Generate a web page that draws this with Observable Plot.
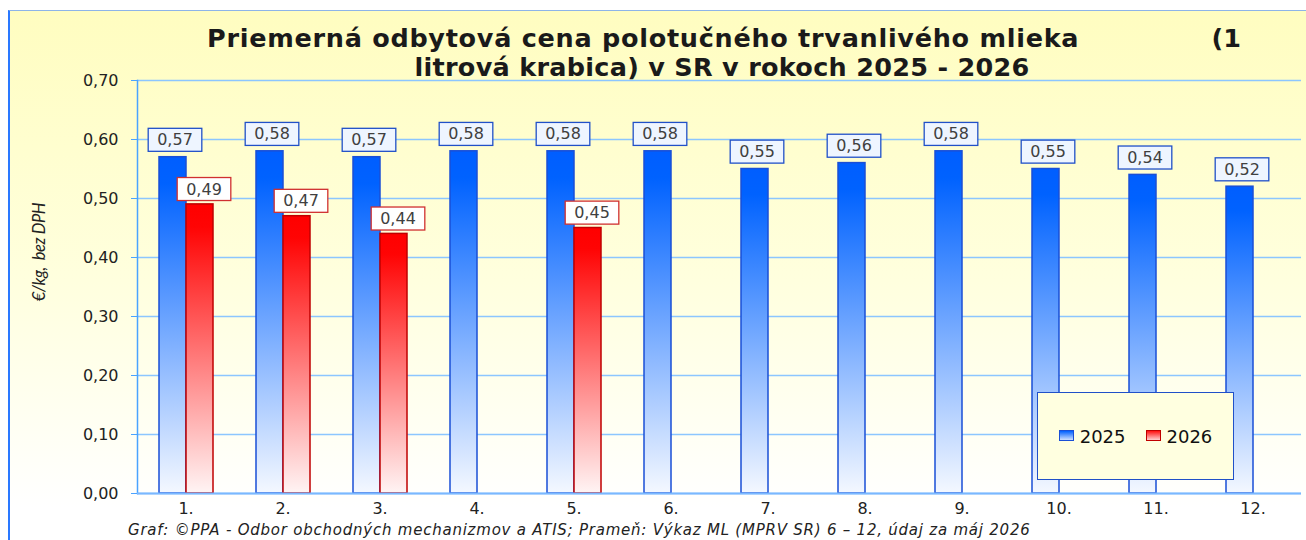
<!DOCTYPE html>
<html><head><meta charset="utf-8">
<script src="https://cdn.jsdelivr.net/npm/d3@7"></script>
<script src="https://cdn.jsdelivr.net/npm/@observablehq/plot@0.6"></script>
<style>
body{margin:0;width:1306px;height:540px;overflow:hidden;background:#fff;position:relative;font-family:"DejaVu Sans",Verdana,sans-serif;}
#frame{position:absolute;left:8px;top:10px;width:1298px;height:540px;border-left:2px solid #2a78ff;border-top:1px solid #8db4e8;background:linear-gradient(to bottom,#fffdc0 0%,#ffffde 50%,#ffffff 92%);}
#chart{position:absolute;left:0;top:0;}
.title{position:absolute;font-weight:bold;font-size:25.5px;color:#1a1a1a;white-space:nowrap;line-height:30px;}
#t1{left:207px;top:23px;width:1034px;display:flex;justify-content:space-between;}
#t1 span:first-child{letter-spacing:0.72px;}
#t2{left:0;width:1444px;top:52px;text-align:center;letter-spacing:0.28px;}
#ylab{position:absolute;left:39px;top:252px;transform:translate(-50%,-50%) rotate(-90deg);font-family:Lato,sans-serif;font-style:italic;font-size:16.5px;letter-spacing:-0.4px;color:#222;white-space:pre;}
#caption{position:absolute;left:128px;top:521px;font-style:italic;font-size:15px;letter-spacing:0.77px;color:#222;white-space:nowrap;}
#legend{position:absolute;left:1037px;top:392px;width:195px;height:86px;background:#ffffe0;border:1.5px solid #2050c8;display:flex;align-items:center;justify-content:center;gap:20px;font-size:18px;color:#111;}
.sw{display:inline-block;width:13px;height:9px;margin-right:6px;vertical-align:2px;}
</style></head>
<body>
<div id="frame"></div>
<div id="chart"></div>
<div class="title" id="t1"><span>Priemerná odbytová cena polotučného trvanlivého mlieka</span><span>(1</span></div>
<div class="title" id="t2">litrová krabica) v SR v rokoch 2025 - 2026</div>
<div id="ylab">€/kg,  bez DPH</div>
<div id="caption">Graf: ©PPA - Odbor obchodných mechanizmov a ATIS; Prameň: Výkaz ML (MPRV SR) 6 – 12, údaj za máj 2026</div>
<div id="legend"><span><span class="sw" style="background:linear-gradient(#0060ff,#cfe0ff);border:1px solid #1a4fd6"></span>2025</span><span><span class="sw" style="background:linear-gradient(#ff1010,#ffd0d0);border:1px solid #c00000"></span>2026</span></div>
<script>
const monthLabels = ["1.","2.","3.","4.","5.","6.","7.","8.","9.","10.","11.","12."];
const years = ["2025","2026"];
const values2025 = [0.57,0.58,0.57,0.58,0.58,0.58,0.55,0.56,0.58,0.55,0.54,0.52];
const values2026 = [0.49,0.47,0.44,null,0.45,null,null,null,null,null,null,null];
const yTicks = [0,0.1,0.2,0.3,0.4,0.5,0.6,0.7];

const d25 = monthLabels.map((m,i)=>({m, year:"2025", v:values2025[i]})).filter(d=>d.v!=null);
const d26 = monthLabels.map((m,i)=>({m, year:"2026", v:values2026[i]})).filter(d=>d.v!=null);
const fmt = d => d.toFixed(2).replace(".", ",");

const chart = Plot.plot({
  width:1306, height:520,
  marginTop:80, marginBottom:27, marginLeft:136, marginRight:5,
  style:{background:"transparent", fontFamily:"DejaVu Sans, Verdana, sans-serif", fontSize:"16px", color:"#222"},
  fx:{domain:monthLabels, padding:0, label:null},
  x:{domain:years, paddingInner:0, paddingOuter:0.734, axis:null},
  y:{domain:[0,0.7], label:null},
  marks:[
    Plot.gridY({ticks:yTicks, stroke:"#8cc6ff", strokeOpacity:1, strokeWidth:1.5}),
    Plot.frame({anchor:"left", facetAnchor:"left", stroke:"#4aa3ff", strokeWidth:1.5}),
    Plot.axisY({ticks:yTicks, tickFormat:fmt, tickSize:6, tickPadding:13, stroke:"#4aa3ff", fill:"#222", fontSize:16, label:null}),
    Plot.axisFx({anchor:"bottom", tickSize:0, tickPadding:9, fontSize:16, fill:"#222", label:null}),
    Plot.barY(d25, {fx:"m", x:"year", y:"v", fill:"url(#g25)", stroke:"#1a4fd6", strokeWidth:1.5}),
    Plot.barY(d26, {fx:"m", x:"year", y:"v", fill:"url(#g26)", stroke:"#c00000", strokeWidth:1.5}),
    Plot.ruleY([0], {stroke:"#7ab8ff", strokeWidth:2}),
    Plot.text(d25, {fx:"m", x:"year", y:"v", text:d=>fmt(d.v), dy:-17, dx:2, fill:"#404040", fontSize:16, className:"lbl25"}),
    Plot.text(d26, {fx:"m", x:"year", y:"v", text:d=>fmt(d.v), dy:-15, dx:4, fill:"#404040", fontSize:16, className:"lbl26"})
  ]
});
document.getElementById("chart").appendChild(chart);
const NS = "http://www.w3.org/2000/svg";
const defs = document.createElementNS(NS,"defs");
defs.innerHTML = `<linearGradient id="g25" x1="0" y1="0" x2="0" y2="1"><stop offset="0" stop-color="#005eff"/><stop offset="0.08" stop-color="#0062ff"/><stop offset="1" stop-color="#f4f8ff"/></linearGradient>
<linearGradient id="g26" x1="0" y1="0" x2="0" y2="1"><stop offset="0" stop-color="#ff0000"/><stop offset="0.08" stop-color="#ff0404"/><stop offset="1" stop-color="#fff4f4"/></linearGradient>`;
chart.insertBefore(defs, chart.firstChild);
function boxLabels(cls, stroke, fill){
  chart.querySelectorAll("."+cls+" text").forEach(t=>{
    const b = t.getBBox();
    const r = document.createElementNS(NS,"rect");
    r.setAttribute("x", b.x-9); r.setAttribute("y", b.y-2);
    r.setAttribute("width", b.width+18); r.setAttribute("height", b.height+4);
    if (t.getAttribute("transform")) r.setAttribute("transform", t.getAttribute("transform"));
    r.setAttribute("fill", fill); r.setAttribute("stroke", stroke); r.setAttribute("stroke-width", 1.3);
    t.parentNode.insertBefore(r, t);
  });
}
boxLabels("lbl25", "#2050c8", "#eef5ff");
boxLabels("lbl26", "#d03030", "#ffffff");
</script>
</body></html>
